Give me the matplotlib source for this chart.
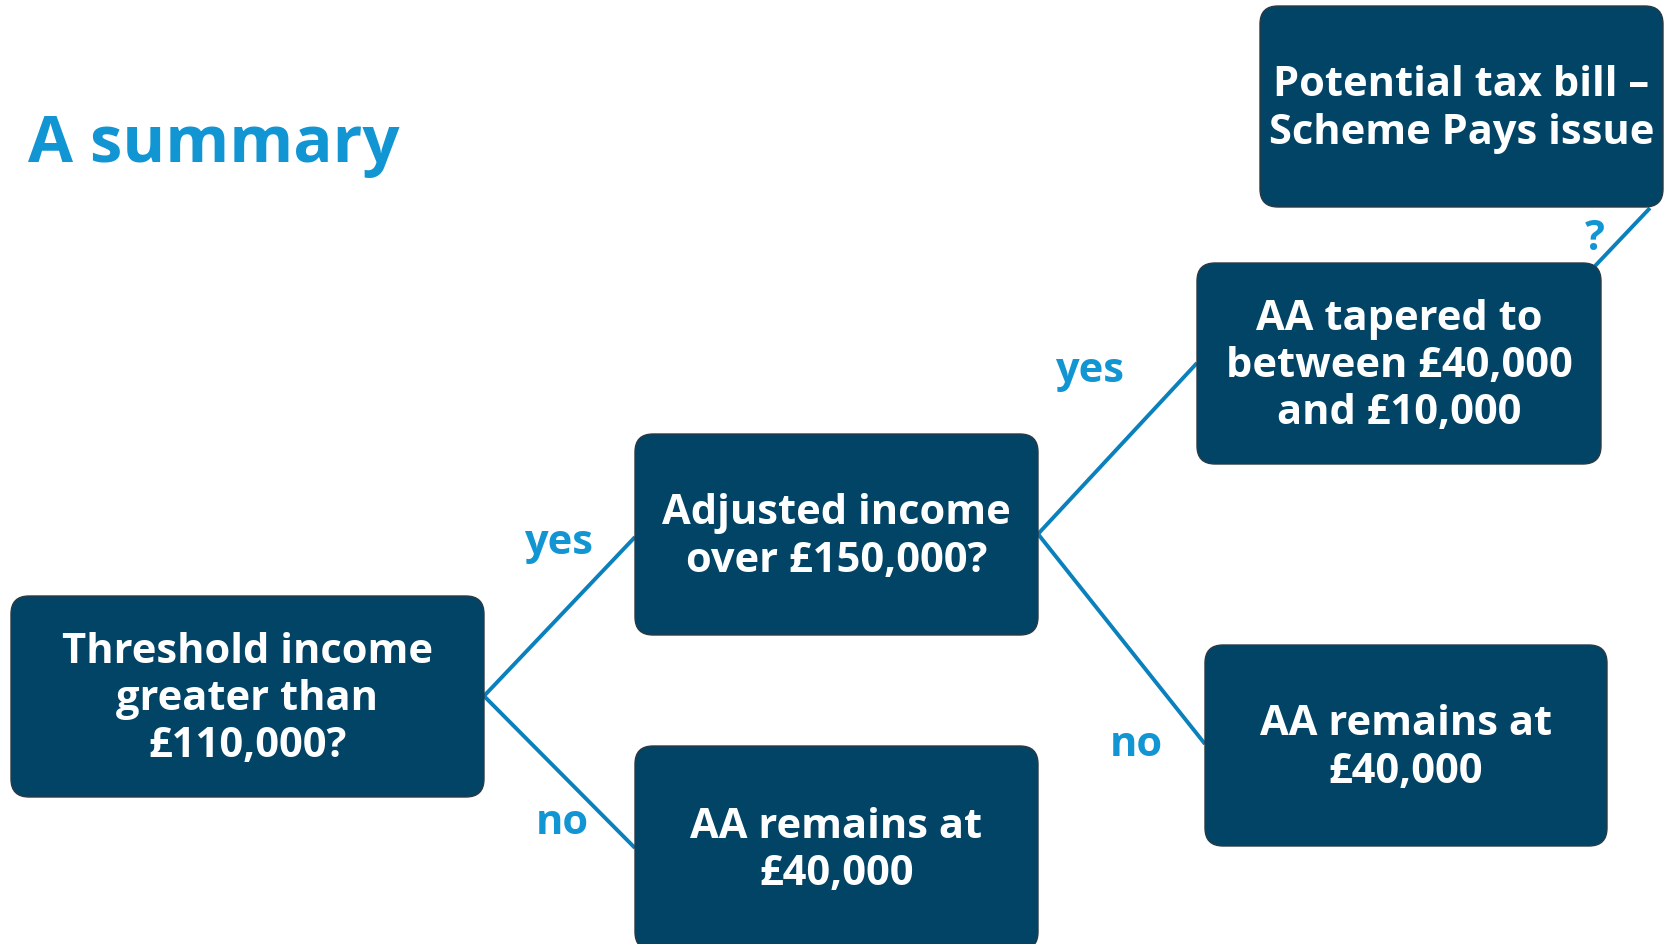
import matplotlib.pyplot as plt
from matplotlib.patches import FancyBboxPatch

# Texte
title = "A summary"
node_labels = [
    "Threshold income\ngreater than\n£110,000?",
    "Adjusted income\nover £150,000?",
    "AA remains at\n£40,000",
    "AA tapered to\nbetween £40,000\nand £10,000",
    "AA remains at\n£40,000",
    "Potential tax bill –\nScheme Pays issue",
]
edge_labels = ["yes", "no", "yes", "no", "?"]
edges = [(0, 1), (0, 2), (1, 3), (1, 4), (3, 5)]

# Layout (Pixel, y nach unten)
boxes = [  # x0, y0, x1, y1
    (11, 596, 484, 797),
    (635, 434, 1038, 635),
    (635, 746, 1038, 950),
    (1197, 263, 1601, 464),
    (1205, 645, 1607, 846),
    (1260, 6, 1663, 207),
]
edge_pts = [
    ((484, 696), (635, 537)),
    ((484, 696), (635, 848)),
    ((1038, 534), (1197, 363)),
    ((1038, 534), (1205, 744)),
    ((1595, 266), (1650, 208)),
]
label_pos = [(559, 544), (562, 823), (1090, 372), (1136, 745), (1595, 240)]

NAVY = "#024466"
BLUE = "#1295D3"
LINE = "#0A80BC"

plt.rcParams['font.family'] = ['Open Sans', 'DejaVu Sans']

fig = plt.figure(figsize=(16.67, 9.44), dpi=100)
ax = fig.add_axes([0, 0, 1, 1])
ax.set_xlim(0, 1667)
ax.set_ylim(944, 0)
ax.axis('off')

# Verbindungen
for (p, q) in edge_pts:
    ax.plot([p[0], q[0]], [p[1], q[1]], color=LINE, lw=2.8, zorder=1,
            solid_capstyle='butt')

# Boxen
for (x0, y0, x1, y1), lab in zip(boxes, node_labels):
    ax.add_patch(FancyBboxPatch((x0, y0), x1 - x0, y1 - y0,
                                boxstyle="round,pad=0,rounding_size=18",
                                fc=NAVY, ec="#2a3a45", lw=1.0, zorder=2))
    cy = min((y0 + y1) / 2, 848) + 3
    ax.text((x0 + x1) / 2, cy, lab, color="white", fontsize=30,
            fontweight='bold', ha='center', va='center',
            linespacing=1.2, zorder=3)

# Kantenbeschriftung
for (x, y), lab in zip(label_pos, edge_labels):
    ax.text(x, y, lab, color=BLUE, fontsize=30, fontweight='bold',
            ha='center', va='center', zorder=3)

ax.text(28, 145, title, color=BLUE, fontsize=47, fontweight='bold',
        ha='left', va='center')

fig.savefig("out.png", dpi=100)
